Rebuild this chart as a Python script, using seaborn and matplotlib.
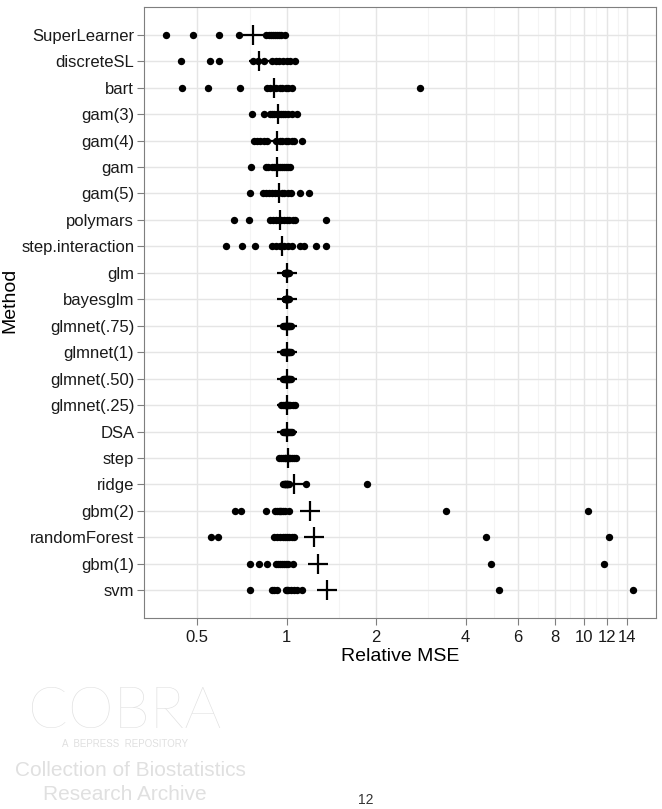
import numpy as np
import pandas as pd
import matplotlib
matplotlib.use('Agg')
import matplotlib.pyplot as plt
import seaborn as sns

# methods, top to bottom
methods = ['SuperLearner', 'discreteSL', 'bart', 'gam(3)', 'gam(4)', 'gam', 'gam(5)',
           'polymars', 'step.interaction', 'glm', 'bayesglm', 'glmnet(.75)', 'glmnet(1)',
           'glmnet(.50)', 'glmnet(.25)', 'DSA', 'step', 'ridge', 'gbm(2)', 'randomForest',
           'gbm(1)', 'svm']

# relative MSE on the 13 data sets
superlearner = [0.394, 0.483, 0.591, 0.690, 0.85, 0.87, 0.885, 0.90, 0.915, 0.93, 0.945, 0.96, 0.985]
discretesl = [0.44, 0.55, 0.59, 0.77, 0.80, 0.84, 0.89, 0.92, 0.94, 0.97, 1.00, 1.03, 1.07]
bart = [0.443, 0.543, 0.695, 0.86, 0.882, 0.903, 0.924, 0.946, 0.968, 0.991, 1.014, 1.043, 2.80]
gam3 = [0.765, 0.842, 0.88, 0.895, 0.91, 0.925, 0.94, 0.955, 0.97, 0.99, 1.01, 1.04, 1.08]
gam4 = [0.775, 0.796, 0.816, 0.838, 0.86, 0.924, 0.946, 0.968, 0.991, 1.014, 1.044, 1.062, 1.13]
gam = [0.761, 0.849, 0.868, 0.896, 0.910, 0.924, 0.938, 0.953, 0.968, 0.983, 0.998, 1.014, 1.030]
gam5 = [0.75, 0.832, 0.849, 0.875, 0.896, 0.917, 0.938, 0.961, 0.983, 1.014, 1.038, 1.107, 1.193]
polymars = [0.664, 0.746, 0.88, 0.90, 0.92, 0.94, 0.96, 0.98, 1.00, 1.02, 1.05, 1.07, 1.36]
step_interaction = [0.627, 0.705, 0.785, 0.896, 0.924, 0.953, 0.983, 1.014, 1.046, 1.113, 1.147, 1.259, 1.361]
glm = [0.985, 0.99, 0.99, 0.995, 0.995, 1.0, 1.0, 1.0, 1.005, 1.005, 1.01, 1.01, 1.015]
bayesglm = [0.985, 0.99, 0.99, 0.995, 0.995, 1.0, 1.0, 1.0, 1.005, 1.005, 1.01, 1.01, 1.015]
glmnet75 = [0.975, 0.98, 0.985, 0.99, 0.995, 1.0, 1.0, 1.005, 1.01, 1.015, 1.02, 1.03, 1.035]
glmnet1 = [0.975, 0.98, 0.985, 0.99, 0.995, 1.0, 1.0, 1.005, 1.01, 1.015, 1.02, 1.025, 1.035]
glmnet50 = [0.975, 0.98, 0.985, 0.99, 0.995, 1.0, 1.0, 1.005, 1.01, 1.015, 1.02, 1.025, 1.035]
glmnet25 = [0.96, 0.975, 0.985, 0.99, 0.995, 1.0, 1.0, 1.005, 1.01, 1.02, 1.03, 1.05, 1.065]
dsa = [0.97, 0.98, 0.985, 0.99, 0.995, 1.0, 1.0, 1.005, 1.01, 1.02, 1.025, 1.035, 1.04]
step = [0.945, 0.96, 0.975, 0.985, 0.99, 1.0, 1.0, 1.01, 1.02, 1.03, 1.045, 1.06, 1.075]
ridge = [0.97, 0.98, 0.985, 0.99, 0.99, 0.995, 1.0, 1.0, 1.005, 1.01, 1.015, 1.163, 1.865]
gbm2 = [0.668, 0.700, 0.855, 0.917, 0.93, 0.945, 0.95, 0.96, 0.975, 0.99, 1.02, 3.44, 10.3]
randomforest = [0.555, 0.587, 0.91, 0.93, 0.95, 0.97, 0.99, 1.00, 1.02, 1.04, 1.06, 4.7, 12.2]
gbm1 = [0.751, 0.806, 0.86, 0.92, 0.935, 0.95, 0.965, 0.98, 0.995, 1.01, 1.05, 4.88, 11.72]
svm = [0.755, 0.896, 0.91, 0.929, 0.991, 1.0, 1.014, 1.038, 1.062, 1.087, 1.122, 5.2, 14.6]

all_values = [superlearner, discretesl, bart, gam3, gam4, gam, gam5, polymars,
              step_interaction, glm, bayesglm, glmnet75, glmnet1, glmnet50, glmnet25,
              dsa, step, ridge, gbm2, randomforest, gbm1, svm]

x_breaks = [0.5, 1, 2, 4, 6, 8, 10, 12, 14]
x_labels = ['0.5', '1', '2', '4', '6', '8', '10', '12', '14']
x_minor = [0.75, 1.5, 3, 5, 7, 9, 11, 13]

df = pd.DataFrame({
    'Method': np.repeat(methods, [len(v) for v in all_values]),
    'MSE': np.concatenate(all_values),
})
# mean on the log scale (geometric mean) for the cross
means = df.groupby('Method', sort=False)['MSE'].apply(lambda v: np.exp(np.log(v).mean())).reset_index()
means['pos'] = [methods.index(m) for m in means['Method']]

plt.rcParams['font.family'] = ['Liberation Sans', 'DejaVu Sans']

fig = plt.figure(figsize=(6.62, 8.09), dpi=100)
ax = fig.add_axes([144 / 662, 1 - 618 / 809, (656 - 144) / 662, (618 - 7) / 809])

ax.set_xscale('log')
sns.stripplot(data=df, x='MSE', y='Method', order=methods, jitter=False, color='black',
              size=5.3, linewidth=0, ax=ax, zorder=3)
sns.scatterplot(data=means, x='MSE', y='pos', marker='+', s=220, color='black',
                linewidth=1.6, ax=ax, zorder=4)

ax.set_xlim(0.331, 17.5)
ax.set_ylim(len(methods) - 1 + 1.05, -1.05)
ax.set_xticks(x_breaks)
ax.set_xticklabels(x_labels)
ax.set_xticks(x_minor, minor=True)
ax.set_xticklabels([], minor=True)
ax.set_yticks(range(len(methods)))
ax.set_yticklabels(methods)

ax.grid(True, which='major', axis='both', color='#E5E5E5', linewidth=1.0, zorder=0)
ax.grid(True, which='minor', axis='x', color='#F4F4F4', linewidth=0.8, zorder=0)
ax.set_axisbelow(True)
for s in ax.spines.values():
    s.set_color('#7F7F7F')
    s.set_linewidth(0.8)
ax.tick_params(axis='both', which='major', color='#7F7F7F', length=5, width=0.8,
               labelsize=12, labelcolor='#1a1a1a', pad=2)
ax.tick_params(axis='x', which='major', pad=4)
ax.tick_params(axis='x', which='minor', length=0)

ax.set_xlabel('Relative MSE', fontsize=14, labelpad=2)
ax.set_ylabel('')
fig.text(18 / 662, 1 - 300 / 809, 'Method', rotation=90, fontsize=14, ha='right', va='center')

# repository watermark
wm = '#E0E0E0'
fig.text(125 / 662, 1 - 712 / 809, 'COBRA', fontsize=42, color=wm, ha='center', va='center',
         family=['Lato', 'Liberation Sans'], fontweight='light', zorder=0)
fig.text(125 / 662, 1 - 744 / 809, 'A  BEPRESS  REPOSITORY', fontsize=7, color=wm,
         ha='center', va='center', zorder=0)
fig.text(130 / 662, 1 - 770 / 809, 'Collection of Biostatistics', fontsize=15, color=wm,
         ha='center', va='center', zorder=0)
fig.text(125 / 662, 1 - 795 / 809, 'Research Archive', fontsize=15, color=wm,
         ha='center', va='center', zorder=0)
fig.text(366 / 662, 2 / 809, '12', fontsize=10, color='#333333', ha='center', va='bottom')

fig.savefig('out.png', dpi=100)
